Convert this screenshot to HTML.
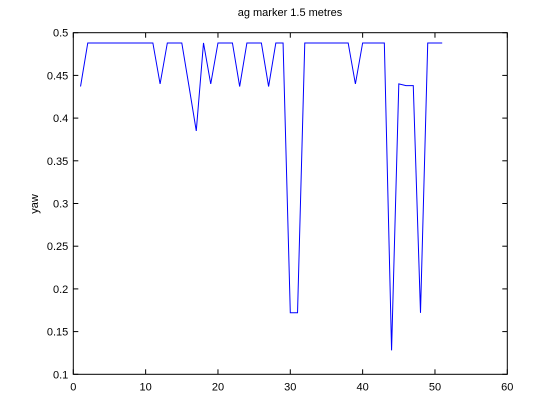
<!DOCTYPE html>
<html><head><meta charset="utf-8"><style>
body{margin:0;background:#fff}
svg{display:block;font-family:"Liberation Sans",sans-serif}
</style></head><body>
<svg width="560" height="420">
<rect x="0" y="0" width="560" height="420" fill="#fff"/>
<text x="290" y="16" font-size="11" text-anchor="middle">ag marker 1.5 metres</text>
<text transform="translate(38,204) rotate(-90)" font-size="11" text-anchor="middle">yaw</text>
<g id="axes"></g>
<polyline id="line" fill="none" stroke="#0000ff" stroke-width="1"/>
<rect x="73.3" y="32.7" width="434" height="341.6" fill="none" stroke="#000" stroke-width="1"/>
</svg>
<script>
const xValues=[1,2,3,4,5,6,7,8,9,10,11,12,13,14,15,16,17,18,19,20,21,22,23,24,25,26,27,28,29,30,31,32,33,34,35,36,37,38,39,40,41,42,43,44,45,46,47,48,49,50,51];
const yawValues=[0.437,0.488,0.488,0.488,0.488,0.488,0.488,0.488,0.488,0.488,0.488,0.44,0.488,0.488,0.488,0.437,0.385,0.488,0.44,0.488,0.488,0.488,0.437,0.488,0.488,0.488,0.437,0.488,0.488,0.172,0.172,0.488,0.488,0.488,0.488,0.488,0.488,0.488,0.44,0.488,0.488,0.488,0.488,0.128,0.44,0.438,0.438,0.172,0.488,0.488,0.488];
const xTicks=[0,10,20,30,40,50,60];
const yTicks=[0.1,0.15,0.2,0.25,0.3,0.35,0.4,0.45,0.5];
const yTickLabels=["0.1","0.15","0.2","0.25","0.3","0.35","0.4","0.45","0.5"];
const L=73.3,R=507.3,T=32.7,B=374.3;
const sx=v=>L+(v-0)/60*(R-L);
const sy=v=>B-(v-0.1)/0.4*(B-T);
const ns="http://www.w3.org/2000/svg";
const g=document.getElementById('axes');
function mk(tag,attrs){const e=document.createElementNS(ns,tag);for(const k in attrs)e.setAttribute(k,attrs[k]);return e;}
xTicks.forEach(t=>{
  const x=sx(t);
  let a=mk('line',{x1:x,x2:x,y1:B,y2:B-5,stroke:'#000'});
  
  
  g.appendChild(a);
  let b=mk('line',{x1:x,x2:x,y1:T,y2:T+5,stroke:'#000'});
  
  
  g.appendChild(b);
  let tx=mk('text',{x:x,y:B+16,'font-size':11,'text-anchor':'middle'});
  tx.textContent=String(t);
  
  
  g.appendChild(tx);
});
yTicks.forEach((t,i)=>{
  const y=sy(t);
  let a=mk('line',{x1:L,x2:L+5,y1:y,y2:y,stroke:'#000'});
  
  
  g.appendChild(a);
  let b=mk('line',{x1:R,x2:R-5,y1:y,y2:y,stroke:'#000'});
  
  
  g.appendChild(b);
  let tx=mk('text',{x:L-5,y:y+4,'font-size':11,'text-anchor':'end'});
  tx.textContent=yTickLabels[i];
  
  
  g.appendChild(tx);
});
document.getElementById('line').setAttribute('points',xValues.map((x,i)=>sx(x).toFixed(2)+','+sy(yawValues[i]).toFixed(2)).join(' '));
</script>
</body></html>
